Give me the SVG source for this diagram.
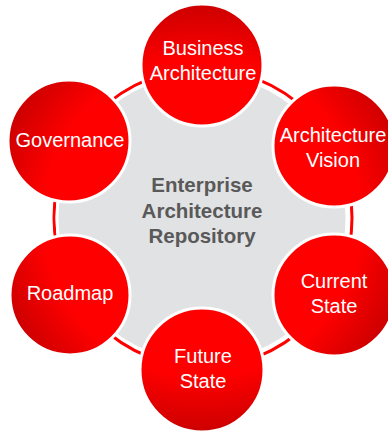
<svg xmlns="http://www.w3.org/2000/svg" width="388" height="434" viewBox="0 0 388 434">
<defs>
<radialGradient id="rg" gradientUnits="userSpaceOnUse" cx="202" cy="218" r="214">
<stop offset="0" stop-color="#ff0000"/>
<stop offset="0.74" stop-color="#ff0000"/>
<stop offset="1" stop-color="#cc0000"/>
</radialGradient>
<style>
.node circle{fill:url(#rg);stroke:#ffffff;stroke-width:3}
.lbl{font-family:"Liberation Sans",Arial,sans-serif;font-size:20px;fill:#ffffff;text-anchor:middle}
.ctr{font-family:"Liberation Sans",Arial,sans-serif;font-size:20.5px;font-weight:bold;fill:#595959;text-anchor:middle}
</style>
</defs>
<rect width="388" height="434" fill="#ffffff"/>
<g id="connectors">
<circle cx="203" cy="218" r="149" fill="none" stroke="#ff0000" stroke-width="3"/>
<circle cx="202" cy="218" r="145" fill="#e1e2e4" stroke="#ffffff" stroke-width="3"/>
</g>
<g id="center">
<text class="ctr" x="202" y="192">Enterprise</text>
<text class="ctr" x="202" y="218">Architecture</text>
<text class="ctr" x="202" y="243">Repository</text>
</g>
<g id="business" class="node">
<circle cx="202" cy="65" r="61"/>
<text class="lbl" x="203" y="55">Business</text>
<text class="lbl" x="203" y="80">Architecture</text>
</g>
<g id="vision" class="node">
<circle cx="334" cy="146" r="61"/>
<text class="lbl" x="333" y="142">Architecture</text>
<text class="lbl" x="333" y="167">Vision</text>
</g>
<g id="current" class="node">
<circle cx="334" cy="295" r="61"/>
<text class="lbl" x="334" y="288">Current</text>
<text class="lbl" x="334" y="313">State</text>
</g>
<g id="future" class="node">
<circle cx="202" cy="370" r="62"/>
<text class="lbl" x="203" y="363">Future</text>
<text class="lbl" x="203" y="388">State</text>
</g>
<g id="roadmap" class="node">
<circle cx="70" cy="295" r="60"/>
<text class="lbl" x="70" y="300">Roadmap</text>
</g>
<g id="governance" class="node">
<circle cx="69" cy="141" r="61"/>
<text class="lbl" x="70" y="147">Governance</text>
</g>
</svg>
